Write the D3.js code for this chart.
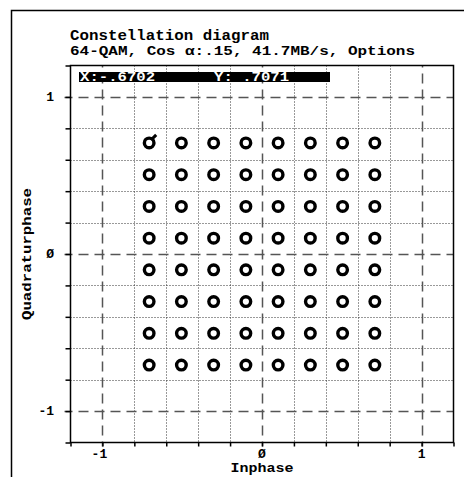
<!DOCTYPE html>
<html>
<head>
<meta charset="utf-8">
<script src="https://cdn.jsdelivr.net/npm/d3@7"></script>
<style>
  html, body { margin: 0; padding: 0; background: #fff; }
  svg { display: block; }
  text { font-family: "Liberation Mono", "DejaVu Sans Mono", monospace; font-weight: bold; fill: #000; }
</style>
</head>
<body>
<svg id="chart" width="464" height="477"></svg>
<script>
// constellation levels (in-phase and quadrature)
const iLevels = [-0.7071, -0.5051, -0.3030, -0.1010, 0.1010, 0.3030, 0.5051, 0.7071];
const qLevels = [0.7071, 0.5051, 0.3030, 0.1010, -0.1010, -0.3030, -0.5051, -0.7071];

const dashedLines = [-1, 0, 1];
const dottedLines = [-0.8, -0.6, -0.4, -0.2, 0.2, 0.4, 0.6, 0.8];
const axisTicks = [-1.2, -1, -0.8, -0.6, -0.4, -0.2, 0, 0.2, 0.4, 0.6, 0.8, 1, 1.2];
const tickLabels = [{ v: -1, t: '-1' }, { v: 0, t: 'Ø' }, { v: 1, t: '1' }];

const titleText = 'Constellation diagram';
const subtitleText = '64-QAM, Cos α:.15, 41.7MB/s, Options';
const readoutX = 'X:-.6702';
const readoutY = 'Y: .7071';
const cursorPoint = { i: -0.7071, q: 0.7071 };

const svg = d3.select('#chart');

const x = d3.scaleLinear().domain([-1.2, 1.2]).range([70.5, 453.5]);
const y = d3.scaleLinear().domain([-1.2, 1.2]).range([442.5, 65.5]);

// outer frame
svg.append('rect')
  .attr('x', 11.5).attr('y', 10.5)
  .attr('width', 480).attr('height', 480)
  .attr('fill', 'none').attr('stroke', '#000').attr('stroke-width', 1.5);

// titles
svg.append('text').attr('x', 70).attr('y', 40)
  .attr('font-size', 15).attr('textLength', 199).attr('lengthAdjust', 'spacingAndGlyphs')
  .text(titleText);
svg.append('text').attr('x', 70).attr('y', 55)
  .attr('font-size', 13).attr('textLength', 345).attr('lengthAdjust', 'spacingAndGlyphs')
  .text(subtitleText);

const grid = svg.append('g').attr('class', 'grid');

// dotted grid
grid.selectAll('line.vdot').data(dottedLines).join('line')
  .attr('class', 'vdot')
  .attr('x1', d => Math.round(x(d)) + 0.5).attr('x2', d => Math.round(x(d)) + 0.5)
  .attr('y1', y(1.2)).attr('y2', y(-1.2))
  .attr('stroke', '#333').attr('stroke-width', 1).attr('stroke-dasharray', '1,2');
grid.selectAll('line.hdot').data(dottedLines).join('line')
  .attr('class', 'hdot')
  .attr('y1', d => Math.round(y(d)) + 0.5).attr('y2', d => Math.round(y(d)) + 0.5)
  .attr('x1', x(-1.2)).attr('x2', x(1.2))
  .attr('stroke', '#333').attr('stroke-width', 1).attr('stroke-dasharray', '1,2');

// dashed grid
grid.selectAll('line.vdash').data(dashedLines).join('line')
  .attr('class', 'vdash')
  .attr('x1', d => Math.round(x(d)) + 0.5).attr('x2', d => Math.round(x(d)) + 0.5)
  .attr('y1', y(1.2)).attr('y2', y(-1.2) + 4)
  .attr('stroke', '#555').attr('stroke-width', 1.5).attr('stroke-dasharray', '10,6')
  .attr('stroke-dashoffset', -8);
grid.selectAll('line.hdash').data(dashedLines).join('line')
  .attr('class', 'hdash')
  .attr('y1', d => Math.round(y(d)) + 0.5).attr('y2', d => Math.round(y(d)) + 0.5)
  .attr('x1', x(-1.2) - 6).attr('x2', x(1.2))
  .attr('stroke', '#555').attr('stroke-width', 1.5).attr('stroke-dasharray', '10,6')
  .attr('stroke-dashoffset', -14);

// plot frame
svg.append('rect')
  .attr('x', x(-1.2)).attr('y', y(1.2))
  .attr('width', x(1.2) - x(-1.2)).attr('height', y(-1.2) - y(1.2))
  .attr('fill', 'none').attr('stroke', '#000').attr('stroke-width', 1.5);

// axes
const xAxis = d3.axisBottom(x).tickValues(axisTicks).tickSize(4).tickFormat('');
const yAxis = d3.axisLeft(y).tickValues(axisTicks).tickSize(5).tickFormat('');
svg.append('g').attr('transform', `translate(0,${y(-1.2)})`).call(xAxis)
  .call(g => g.select('.domain').remove())
  .call(g => g.selectAll('line').attr('stroke-width', 1.5));
svg.append('g').attr('transform', `translate(${x(-1.2)},0)`).call(yAxis)
  .call(g => g.select('.domain').remove())
  .call(g => g.selectAll('line').attr('stroke-width', 1.5));

svg.selectAll('text.xlab').data(tickLabels).join('text')
  .attr('class', 'xlab')
  .attr('x', d => x(d.v) + (d.v < 0 ? -3 : 0)).attr('y', 458)
  .attr('text-anchor', 'middle').attr('font-size', 13)
  .text(d => d.t);
svg.selectAll('text.ylab').data(tickLabels).join('text')
  .attr('class', 'ylab')
  .attr('x', 54).attr('y', d => y(d.v) + 4)
  .attr('text-anchor', 'end').attr('font-size', 13)
  .text(d => d.t);

// axis titles
svg.append('text').attr('x', x(0)).attr('y', 472)
  .attr('text-anchor', 'middle').attr('font-size', 12)
  .attr('textLength', 63).attr('lengthAdjust', 'spacingAndGlyphs')
  .text('Inphase');
svg.append('text')
  .attr('transform', `translate(31,${y(0)}) rotate(-90)`)
  .attr('text-anchor', 'middle').attr('font-size', 12)
  .attr('textLength', 132).attr('lengthAdjust', 'spacingAndGlyphs')
  .text('Quadraturphase');

// constellation points
const points = qLevels.flatMap(q => iLevels.map(i => ({ i, q })));
svg.append('g').selectAll('circle').data(points).join('circle')
  .attr('cx', d => x(d.i)).attr('cy', d => y(d.q))
  .attr('r', 4.8)
  .attr('fill', 'none').attr('stroke', '#000').attr('stroke-width', 3.4);

// cursor mark on the selected point
svg.append('path')
  .attr('d', `M${x(cursorPoint.i) + 3},${y(cursorPoint.q) - 4} L${x(cursorPoint.i) + 6},${y(cursorPoint.q) - 7}`)
  .attr('stroke', '#000').attr('stroke-width', 3).attr('stroke-linecap', 'square');

// readout bar
const bar = svg.append('g');
bar.append('rect')
  .attr('x', 79).attr('y', 72).attr('width', 251).attr('height', 10)
  .attr('fill', '#000');
bar.append('text').attr('x', 80).attr('y', 81)
  .attr('font-size', 12).attr('textLength', 75).attr('lengthAdjust', 'spacingAndGlyphs')
  .style('fill', '#fff').text(readoutX);
bar.append('text').attr('x', 214).attr('y', 81)
  .attr('font-size', 12).attr('textLength', 75).attr('lengthAdjust', 'spacingAndGlyphs')
  .style('fill', '#fff').text(readoutY);
</script>
</body>
</html>
